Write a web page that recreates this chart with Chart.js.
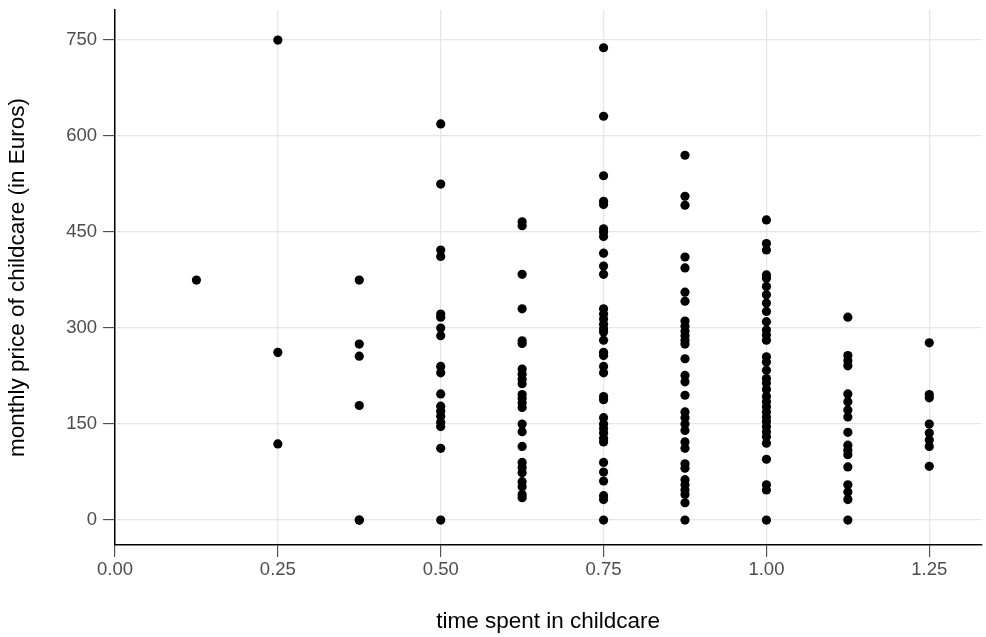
<!DOCTYPE html>
<html>
<head>
<meta charset="utf-8">
<title>Childcare price vs time</title>
<style>
  html, body { margin: 0; padding: 0; background: #fff; }
  #wrap { width: 986px; height: 637px; }
</style>
</head>
<body>
<div id="wrap"><canvas id="chart-childcare" width="986" height="637"></canvas></div>
<script src="https://cdn.jsdelivr.net/npm/chart.js@4.4.0/dist/chart.umd.min.js"></script>
<script>
// time spent in childcare (x) and the monthly prices seen at each level (y)
var timeSpent = [0.125, 0.25, 0.375, 0.5, 0.625, 0.75, 0.875, 1.0, 1.125, 1.25];

var price0125 = [375];
var price025 = [750, 262, 119];
var price0375 = [375, 275, 256, 179, 0, 0];
var price05 = [619, 525, 422, 412, 322, 317, 300, 288, 240, 230, 197, 178, 170, 162, 153, 146, 112, 0];
var price0625 = [466, 460, 384, 330, 280, 276, 236, 228, 220, 213, 196, 190, 183, 176, 150, 138, 115, 90, 82, 74, 60, 52, 40, 35];
var price075 = [738, 631, 538, 498, 493, 455, 450, 443, 417, 397, 384, 330, 322, 314, 306, 299, 294, 281, 262, 257,
                240, 230, 193, 188, 160, 150, 143, 136, 128, 122, 90, 75, 61, 38, 32, 0];
var price0875 = [570, 506, 492, 411, 394, 356, 342, 311, 303, 295, 288, 281, 275, 252, 226, 216, 195, 169, 160, 150,
                 140, 122, 112, 88, 81, 63, 55, 47, 40, 27, 0];
var price1 = [469, 432, 422, 383, 378, 365, 352, 339, 326, 310, 297, 289, 281, 255, 247, 234, 221, 214, 204, 193,
              185, 177, 169, 161, 154, 146, 138, 130, 120, 95, 55, 47, 0];
var price1125 = [317, 257, 249, 241, 197, 185, 172, 161, 137, 117, 109, 102, 83, 55, 44, 32, 0];
var price125 = [277, 196, 191, 150, 136, 125, 115, 84];

var xTicks = [0, 0.25, 0.5, 0.75, 1.0, 1.25];
var yTicks = [0, 150, 300, 450, 600, 750];

var pricesByTime = [price0125, price025, price0375, price05, price0625, price075, price0875, price1, price1125, price125];

var points = [];
timeSpent.forEach(function (t, i) {
    pricesByTime[i].forEach(function (p) { points.push({x: t, y: p}); });
});

var sans = "'Liberation Sans', Arial, Helvetica, sans-serif";

var domChart = document.getElementById("chart-childcare");
var chartChildcare = new Chart(domChart, {
    type: 'scatter',
    data: {
        datasets: [{
            label: "childcare",
            data: points,
            backgroundColor: "#000",
            borderWidth: 0,
            pointRadius: 4.6,
            pointHoverRadius: 4.6
        }]
    },
    options: {
        responsive: false,
        animation: false,
        layout: {padding: {top: 10, right: 4, bottom: 0, left: 0}},
        plugins: {
            legend: {display: false},
            tooltip: {enabled: false}
        },
        scales: {
            x: {
                type: 'linear',
                min: 0,
                max: 1.33,
                afterBuildTicks: function (s) { s.ticks = xTicks.map(function (v) { return {value: v}; }); },
                afterFit: function (s) { s.height = 92; s.paddingLeft = 0; s.paddingRight = 0; },
                ticks: {
                    color: "#4d4d4d",
                    font: {family: sans, size: 18.5},
                    padding: 2,
                    maxRotation: 0,
                    callback: function (v) { return Number(v).toFixed(2); }
                },
                grid: {color: "#e6e6e6", lineWidth: 1.3, tickLength: 12, tickColor: "#333", tickWidth: 1},
                border: {display: true, color: "#000", width: 1.5},
                title: {
                    display: true,
                    text: "time spent in childcare",
                    color: "#000",
                    font: {family: sans, size: 22.5},
                    padding: {top: 0, bottom: 1.5}
                }
            },
            y: {
                type: 'linear',
                min: -39,
                max: 797,
                afterBuildTicks: function (s) { s.ticks = yTicks.map(function (v) { return {value: v}; }); },
                afterFit: function (s) { s.width = 115; s.paddingTop = 0; s.paddingBottom = 0; },
                ticks: {
                    color: "#4d4d4d",
                    font: {family: sans, size: 18.5},
                    padding: 6
                },
                grid: {color: "#e6e6e6", lineWidth: 1.3, tickLength: 12, tickColor: "#333", tickWidth: 1},
                border: {display: true, color: "#000", width: 1.5},
                title: {
                    display: true,
                    text: "monthly price of childcare (in Euros)",
                    color: "#000",
                    font: {family: sans, size: 22.5},
                    padding: {top: 4.5, bottom: 0}
                }
            }
        }
    }
});
</script>
</body>
</html>
